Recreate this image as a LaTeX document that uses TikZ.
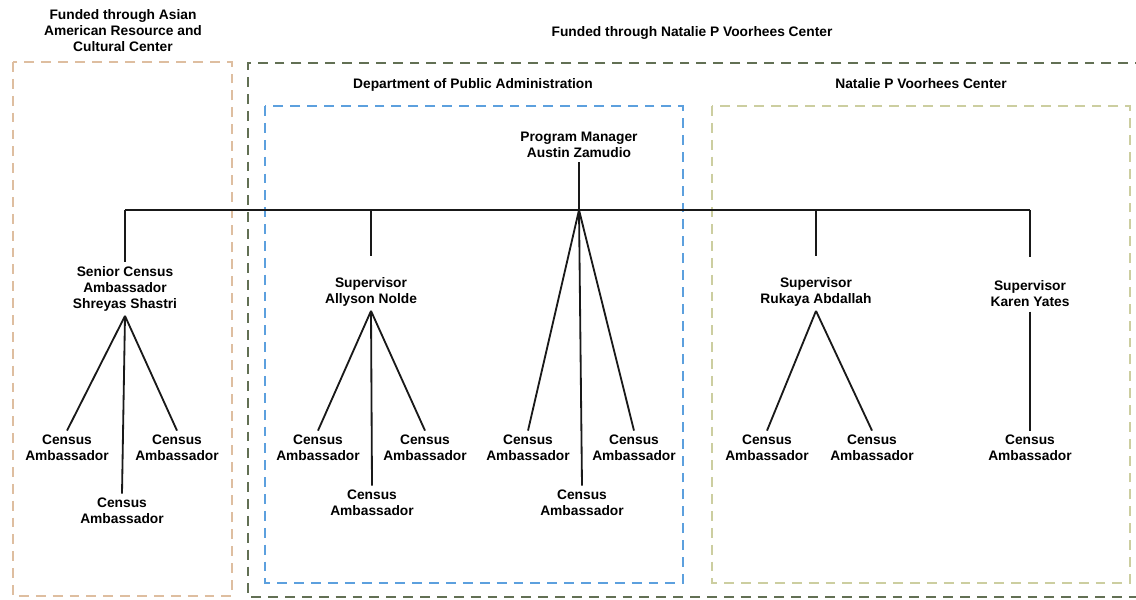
\documentclass[tikz,border=0pt]{standalone}
\usepackage{fontspec}
\setmainfont{Liberation Sans}
\usetikzlibrary{positioning}

\definecolor{asianfund}{RGB}{222,190,160}
\definecolor{voorfund}{RGB}{98,112,84}
\definecolor{dpaline}{RGB}{92,160,222}
\definecolor{npvline}{RGB}{204,206,160}

\begin{document}
\begin{tikzpicture}[
    x=0.025cm, y=-0.025cm,
    every node/.style={font=\bfseries\fontsize{9.8}{11.4}\selectfont, align=center},
    person/.style={inner sep=3pt},
    heading/.style={inner sep=1pt},
    fundbox/.style={line width=1.4pt, dash pattern=on 7pt off 5pt},
    link/.style={line width=1.3pt, black!90}
]
\useasboundingbox (0,0) rectangle (1136,599);

% Funding boxes
\draw[fundbox, asianfund] (13,62) rectangle (232,596);
\draw[fundbox, voorfund] (1145,63) -- (248,63) -- (248,597) -- (1145,597);
\draw[fundbox, dpaline] (265,106) rectangle (683,583);
\draw[fundbox, npvline] (712,106) rectangle (1130,583);

% Headings
\node[heading] (fundasian) at (123,31) {Funded through Asian\\American Resource and\\Cultural Center};
\node[heading] (fundvoor) at (692,33) {Funded through Natalie P Voorhees Center};
\node[heading] (dpa) at (473,85) {Department of Public Administration};
\node[heading] (npv) at (921,84) {Natalie P Voorhees Center};

% People
\node[person] (pm) at (579,145) {Program Manager\\Austin Zamudio};
\coordinate (bar) at (579,210);
\node[person] (senior) at (125,289) {Senior Census\\Ambassador\\Shreyas Shastri};
\node[person] (allyson) at (371,292) {Supervisor\\Allyson Nolde};
\node[person] (rukaya) at (816,292) {Supervisor\\Rukaya Abdallah};
\node[person] (karen) at (1030,294) {Supervisor\\Karen Yates};

% Census ambassadors
\node[person] (sen1) at (67,448) {Census\\Ambassador};
\node[person] (sen2) at (122,511) {Census\\Ambassador};
\node[person] (sen3) at (177,448) {Census\\Ambassador};
\node[person] (all1) at (318,448) {Census\\Ambassador};
\node[person] (all2) at (372,503) {Census\\Ambassador};
\node[person] (all3) at (425,448) {Census\\Ambassador};
\node[person] (pm1) at (528,448) {Census\\Ambassador};
\node[person] (pm2) at (582,503) {Census\\Ambassador};
\node[person] (pm3) at (634,448) {Census\\Ambassador};
\node[person] (ruk1) at (767,448) {Census\\Ambassador};
\node[person] (ruk2) at (872,448) {Census\\Ambassador};
\node[person] (kar1) at (1030,448) {Census\\Ambassador};

% Top level
\draw[link] (pm) -- (bar);
\draw[link] (senior.north |- bar) -- (karen.north |- bar);
\draw[link] (senior.north |- bar) -- (senior.north);
\draw[link, shorten >=12pt] (allyson.north |- bar) -- (allyson.north);
\draw[link, shorten >=12pt] (rukaya.north |- bar) -- (rukaya.north);
\draw[link, shorten >=14pt] (karen.north |- bar) -- (karen.north);

% Branches
\draw[link] (senior.south) -- (sen1.north);
\draw[link] (senior.south) -- (sen2.north);
\draw[link] (senior.south) -- (sen3.north);
\draw[link] (allyson.south) -- (all1.north);
\draw[link] (allyson.south) -- (all2.north);
\draw[link] (allyson.south) -- (all3.north);
\draw[link] (bar) -- (pm1.north);
\draw[link] (bar) -- (pm2.north);
\draw[link] (bar) -- (pm3.north);
\draw[link] (rukaya.south) -- (ruk1.north);
\draw[link] (rukaya.south) -- (ruk2.north);
\draw[link] (karen.south) -- (kar1.north);

\end{tikzpicture}
\end{document}
